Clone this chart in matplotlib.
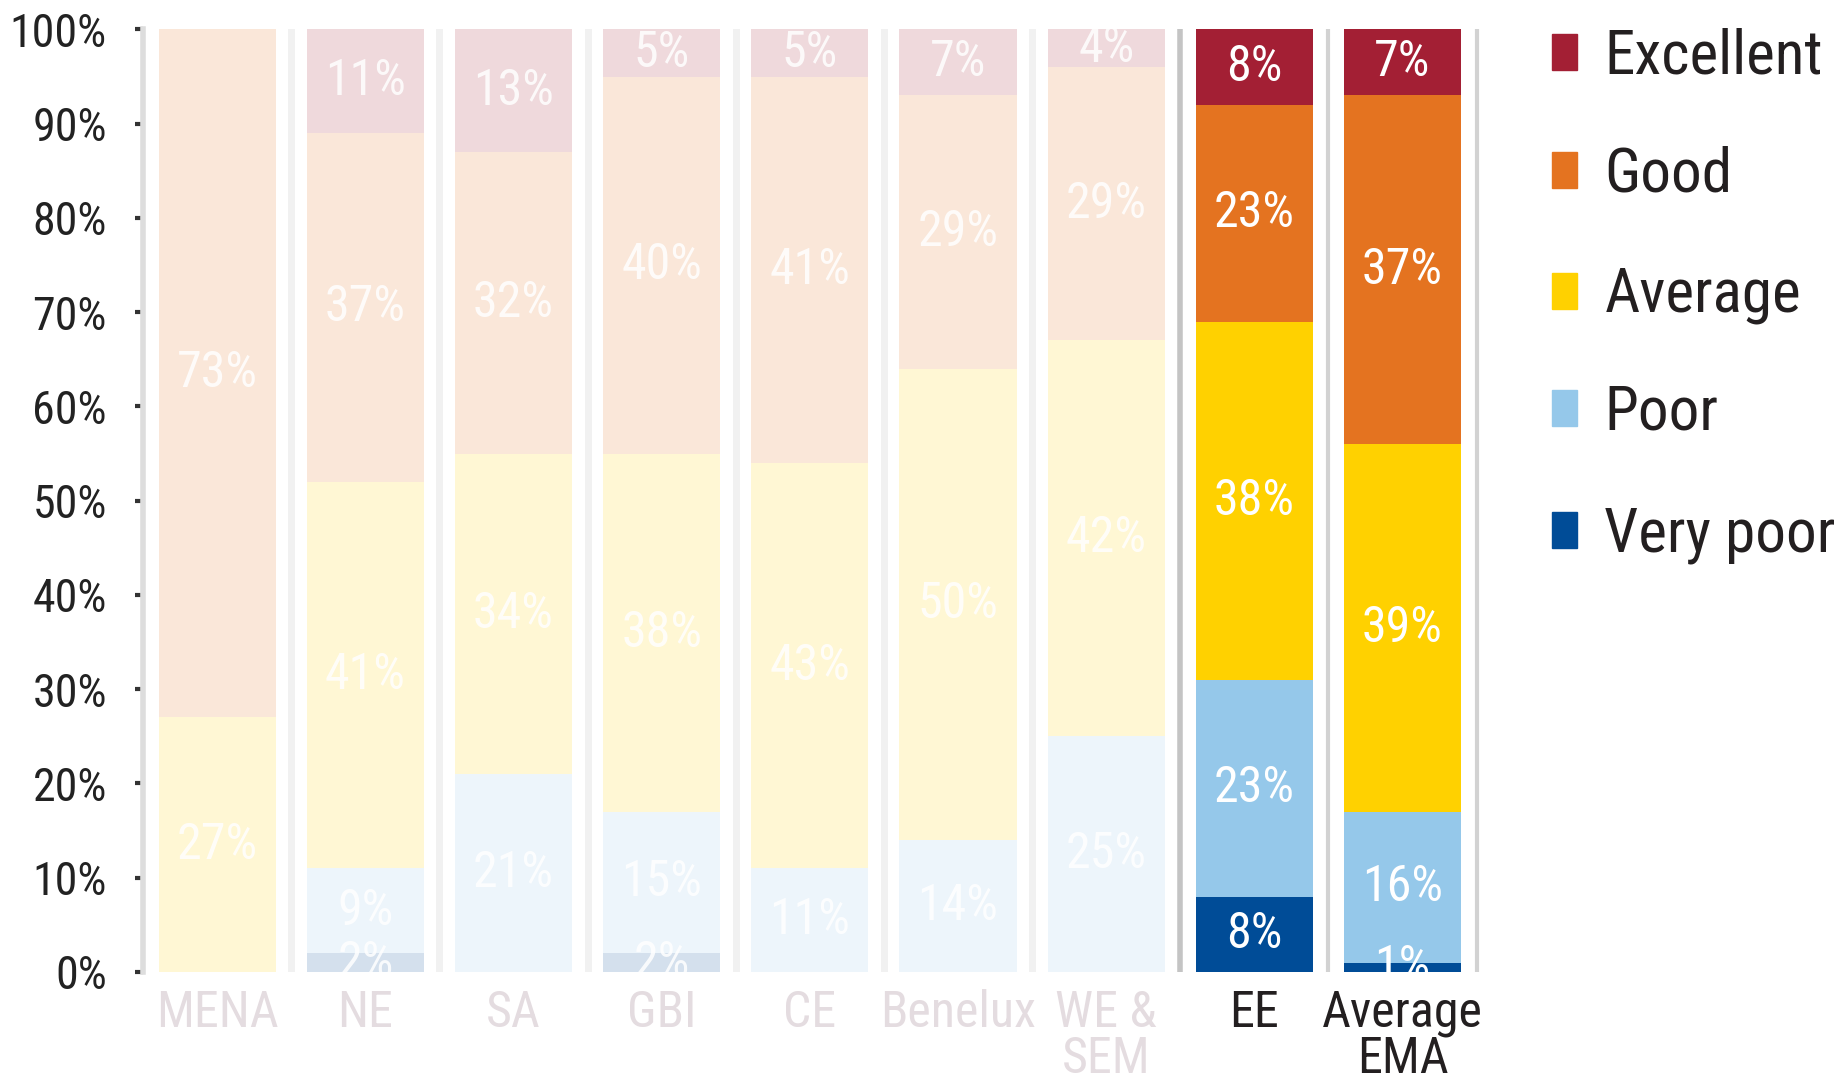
import matplotlib
matplotlib.use("Agg")
import matplotlib.pyplot as plt
from matplotlib.patches import Rectangle
import numpy as np

plt.rcParams['font.family'] = ['Roboto Condensed', 'DejaVu Sans']
plt.rcParams['font.stretch'] = 'condensed'

# data (percent of respondents)
regions = ['MENA', 'NE', 'SA', 'GBI', 'CE', 'Benelux', 'WE &\nSEM', 'EE', 'Average\nEMA']
very_poor = [0, 2, 0, 2, 0, 0, 0, 8, 1]
poor = [0, 9, 21, 15, 11, 14, 25, 23, 16]
average = [27, 41, 34, 38, 43, 50, 42, 38, 39]
good = [73, 37, 32, 40, 41, 29, 29, 23, 37]
excellent = [0, 11, 13, 5, 5, 7, 4, 8, 7]
highlighted = ['EE', 'Average\nEMA']

series = [
    ('Very poor', very_poor, '#004C97'),
    ('Poor', poor, '#95C8EA'),
    ('Average', average, '#FFD100'),
    ('Good', good, '#E47320'),
    ('Excellent', excellent, '#A31F34'),
]

fig = plt.figure(figsize=(18.41, 10.82), dpi=100)
ax = fig.add_axes([0.0777, 0.1017, 0.726, 0.8711])

x = np.arange(len(regions))
bar_w = 0.79
faded_alpha = 0.17

bottom = np.zeros(len(regions))
for name, vals, color in series:
    vals = np.array(vals, dtype=float)
    for i, reg in enumerate(regions):
        if vals[i] <= 0:
            continue
        hl = reg in highlighted
        ax.bar(x[i], vals[i], bottom=bottom[i], width=bar_w, color=color,
               alpha=1.0 if hl else faded_alpha, linewidth=0, zorder=2)
        ax.text(x[i], bottom[i] + vals[i] / 2, f"{int(vals[i])}%",
                ha='center', va='center', color='white', fontsize=36,
                alpha=1.0 if hl else 0.85, zorder=3)
    bottom += vals

# separators between the regions
for i in range(len(regions)):
    sep = x[i] + 0.5
    if sep < 6.5:
        ax.axvline(sep, color='#F1F1F1', lw=5, zorder=1)
    elif sep == 6.5:
        ax.axvline(sep, color='#C4C4C4', lw=4, zorder=1)
    else:
        ax.axvline(sep, color='#D2D2D2', lw=3, zorder=1)

ax.set_xlim(-0.5, 8.52)
ax.set_ylim(0, 100)

ax.set_yticks(np.arange(0, 101, 10))
ax.set_yticklabels([f"{v}%" for v in range(0, 101, 10)], fontsize=33, color='#222222')
ax.tick_params(axis='y', length=6, width=3, color='#333333', pad=20)

ax.set_xticks(x)
ax.set_xticklabels(regions, fontsize=36, linespacing=0.95)
ax.tick_params(axis='x', length=0, pad=12)
for lbl, reg in zip(ax.get_xticklabels(), regions):
    lbl.set_color('#231F20' if reg in highlighted else '#E4DCE0')
    lbl.set_va('top')

for side in ['top', 'right', 'bottom']:
    ax.spines[side].set_visible(False)
ax.spines['left'].set_color('#DDDDDD')
ax.spines['left'].set_linewidth(4)

# legend drawn at the right, top to bottom
legend_rows = [0.952, 0.843, 0.731, 0.623, 0.510]
for (name, vals, color), yrow in zip(series[::-1], legend_rows):
    fig.patches.append(Rectangle((0.8431, yrow - 0.0166), 0.0136, 0.0332,
                                 transform=fig.transFigure, color=color))
    fig.text(0.8715, yrow - 0.004, name, fontsize=44, va='center', ha='left',
             color='#231F20')

fig.savefig('out.png', dpi=100)
